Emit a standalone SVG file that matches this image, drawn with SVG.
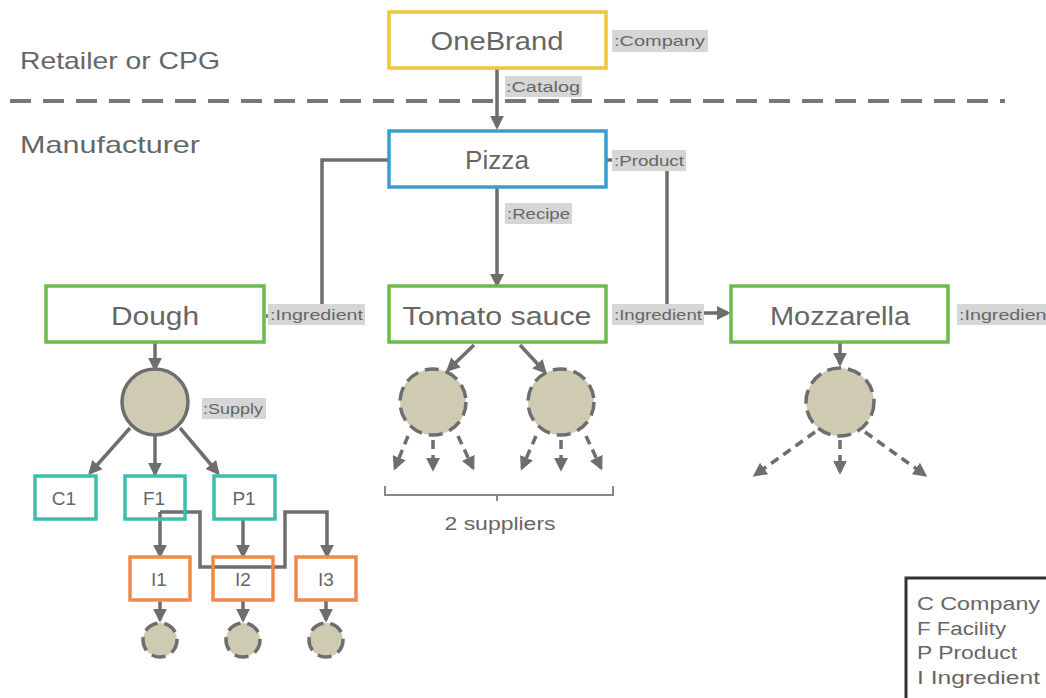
<svg xmlns="http://www.w3.org/2000/svg" width="1046" height="698" viewBox="0 0 1046 698">
<defs>
<style>
text{font-family:"Liberation Sans",Arial,sans-serif;fill:#666}
.node{fill:#fff;stroke-width:3.5}
.nt{font-size:26px;text-anchor:middle}
.st{font-size:19px;text-anchor:middle}
.lbl{fill:#d6d6d6}
.lt{font-size:15px;fill:#666}
.c{stroke:#6e6e6e;stroke-width:3.5;fill:none}
.d{stroke:#6e6e6e;stroke-width:3.5;fill:none;stroke-dasharray:9 6}
.sup{fill:#cfcbb3;stroke:#6e6e6e;stroke-width:3.5}
.supd{fill:#cfcbb3;stroke:#6e6e6e;stroke-width:3.5;stroke-dasharray:14 7}
</style>
<marker id="a" viewBox="0 0 10 10" refX="8" refY="5" markerWidth="4" markerHeight="4" orient="auto" markerUnits="strokeWidth">
<path d="M0,0 L10,5 L0,10 z" fill="#6e6e6e"/>
</marker>
</defs>
<rect width="1046" height="698" fill="#fff"/>
<text x="20" y="69" font-size="24" textLength="200" lengthAdjust="spacingAndGlyphs">Retailer or CPG</text>
<text x="20" y="153" font-size="24" textLength="180" lengthAdjust="spacingAndGlyphs">Manufacturer</text>
<line x1="10" y1="101" x2="1005" y2="101" stroke="#777" stroke-width="4" stroke-dasharray="21 12"/>

<g id="connectors">
<path class="c" d="M497,68 V127" marker-end="url(#a)"/>
<path class="c" d="M497,187 V285" marker-end="url(#a)"/>
<path class="c" d="M389,160 H322 V316 H266"/>
<path class="c" d="M606,160 H667 V313 H728" marker-end="url(#a)"/>
<path class="c" d="M155,342 V369" marker-end="url(#a)"/>
<path class="c" d="M130,428 L90,473" marker-end="url(#a)"/>
<path class="c" d="M155,435 V474" marker-end="url(#a)"/>
<path class="c" d="M180,428 L218,473" marker-end="url(#a)"/>
<path class="c" d="M160,512 V556" marker-end="url(#a)"/>
<path class="c" d="M160,512 H200 V567 H285 V512 H327 V556" marker-end="url(#a)"/>
<path class="c" d="M243,519 V556" marker-end="url(#a)"/>
<path class="c" d="M160,600 V620" marker-end="url(#a)"/>
<path class="c" d="M243,600 V620" marker-end="url(#a)"/>
<path class="c" d="M326,600 V620" marker-end="url(#a)"/>
<path class="c" d="M474,345 L448,370" marker-end="url(#a)"/>
<path class="c" d="M520,345 L545,372" marker-end="url(#a)"/>
<path class="c" d="M840,342 V364" marker-end="url(#a)"/>
<path class="d" d="M408,436 L395,468" marker-end="url(#a)"/>
<path class="d" d="M433,440 V469" marker-end="url(#a)"/>
<path class="d" d="M458,436 L473,468" marker-end="url(#a)"/>
<path class="d" d="M536,436 L522,468" marker-end="url(#a)"/>
<path class="d" d="M561,440 V469" marker-end="url(#a)"/>
<path class="d" d="M586,436 L601,468" marker-end="url(#a)"/>
<path class="d" d="M815,432 L755,475" marker-end="url(#a)"/>
<path class="d" d="M840,440 V472" marker-end="url(#a)"/>
<path class="d" d="M865,432 L925,475" marker-end="url(#a)"/>
<path d="M385,486 V495 H613 V486 M497,495 V501" stroke="#888" stroke-width="2" fill="none"/>
</g>

<g id="label-company"><rect class="lbl" x="612" y="30" width="96" height="22"/><text class="lt" x="614" y="46" textLength="91" lengthAdjust="spacingAndGlyphs">:Company</text></g>
<g id="label-catalog"><rect class="lbl" x="505" y="76" width="77" height="21"/><text class="lt" x="506" y="92" textLength="74" lengthAdjust="spacingAndGlyphs">:Catalog</text></g>
<g id="label-product"><rect class="lbl" x="612" y="150" width="74" height="21"/><text class="lt" x="614" y="166" textLength="70" lengthAdjust="spacingAndGlyphs">:Product</text></g>
<g id="label-recipe"><rect class="lbl" x="505" y="203" width="67" height="21"/><text class="lt" x="507" y="219" textLength="63" lengthAdjust="spacingAndGlyphs">:Recipe</text></g>
<g id="label-ing1"><rect class="lbl" x="268" y="304" width="97" height="21"/><text class="lt" x="270" y="320" textLength="93" lengthAdjust="spacingAndGlyphs">:Ingredient</text></g>
<g id="label-ing2"><rect class="lbl" x="612" y="304" width="92" height="21"/><text class="lt" x="614" y="320" textLength="88" lengthAdjust="spacingAndGlyphs">:Ingredient</text></g>
<g id="label-ing3"><rect class="lbl" x="957" y="304" width="95" height="21"/><text class="lt" x="959" y="320" textLength="93" lengthAdjust="spacingAndGlyphs">:Ingredient</text></g>
<g id="label-supply"><rect class="lbl" x="202" y="398" width="64" height="21"/><text class="lt" x="203" y="414" textLength="60" lengthAdjust="spacingAndGlyphs">:Supply</text></g>

<g id="onebrand"><rect class="node" x="389" y="12" width="217" height="56" stroke="#f0c63c"/><text class="nt" x="497" y="50" textLength="133" lengthAdjust="spacingAndGlyphs">OneBrand</text></g>
<g id="pizza"><rect class="node" x="389" y="131" width="217" height="56" stroke="#3a9cd0"/><text class="nt" x="497" y="169" textLength="64" lengthAdjust="spacingAndGlyphs">Pizza</text></g>
<g id="dough"><rect class="node" x="46" y="286" width="218" height="56" stroke="#6cbb4a"/><text class="nt" x="155" y="325" textLength="88" lengthAdjust="spacingAndGlyphs">Dough</text></g>
<g id="tomato"><rect class="node" x="389" y="286" width="217" height="56" stroke="#6cbb4a"/><text class="nt" x="497" y="325" textLength="189" lengthAdjust="spacingAndGlyphs">Tomato sauce</text></g>
<g id="mozzarella"><rect class="node" x="731" y="286" width="217" height="56" stroke="#6cbb4a"/><text class="nt" x="840" y="325" textLength="140" lengthAdjust="spacingAndGlyphs">Mozzarella</text></g>

<g id="supply"><circle class="sup" cx="155" cy="402" r="33"/></g>
<g id="ts1"><circle class="supd" cx="433" cy="402" r="33"/></g>
<g id="ts2"><circle class="supd" cx="561" cy="402" r="33"/></g>
<g id="mz1"><circle class="supd" cx="840" cy="402" r="34"/></g>

<g id="c1"><rect class="node" x="35" y="476" width="61" height="43" stroke="#3bbfad"/><text class="st" x="64" y="505">C1</text></g>
<g id="f1"><rect class="node" x="125" y="476" width="60" height="43" stroke="#3bbfad" fill-opacity="0"/><text class="st" x="154" y="505">F1</text></g>
<g id="p1"><rect class="node" x="214" y="476" width="61" height="43" stroke="#3bbfad" fill-opacity="0"/><text class="st" x="244" y="505">P1</text></g>
<g id="i1"><rect class="node" x="130" y="557" width="60" height="43" stroke="#ef8a4c" fill-opacity="0"/><text class="st" x="159" y="586">I1</text></g>
<g id="i2"><rect class="node" x="213" y="557" width="60" height="43" stroke="#ef8a4c" fill-opacity="0"/><text class="st" x="243" y="586">I2</text></g>
<g id="i3"><rect class="node" x="296" y="557" width="60" height="43" stroke="#ef8a4c" fill-opacity="0"/><text class="st" x="326" y="586">I3</text></g>
<g id="s1"><circle class="supd" cx="160" cy="640" r="17" stroke-dasharray="20 7"/></g>
<g id="s2"><circle class="supd" cx="243" cy="640" r="17" stroke-dasharray="20 7"/></g>
<g id="s3"><circle class="supd" cx="326" cy="640" r="17" stroke-dasharray="20 7"/></g>

<text x="500" y="530" font-size="18" text-anchor="middle" textLength="111" lengthAdjust="spacingAndGlyphs">2 suppliers</text>

<g id="legend">
<rect x="906" y="578" width="150" height="130" fill="#fff" stroke="#333" stroke-width="3"/>
<text x="917" y="610" font-size="18" textLength="123" lengthAdjust="spacingAndGlyphs">C  Company</text>
<text x="917" y="635" font-size="18" textLength="89" lengthAdjust="spacingAndGlyphs">F  Facility</text>
<text x="917" y="659" font-size="18" textLength="100" lengthAdjust="spacingAndGlyphs">P  Product</text>
<text x="917" y="684" font-size="18" textLength="123" lengthAdjust="spacingAndGlyphs">I   Ingredient</text>
</g>
</svg>
